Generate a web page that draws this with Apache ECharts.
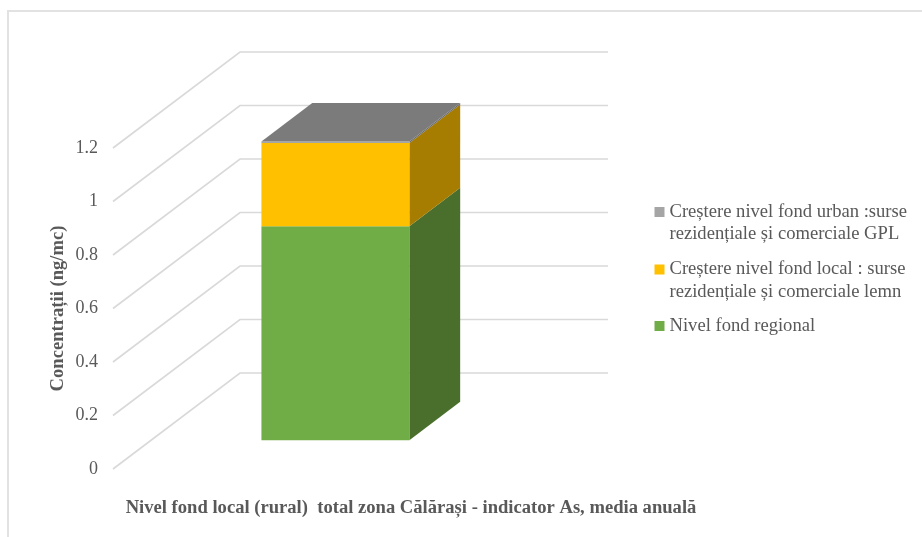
<!DOCTYPE html>
<html>
<head>
<meta charset="utf-8">
<style>html,body{margin:0;padding:0;background:#fff}#c{width:922px;height:537px}</style>
<script src="https://cdn.jsdelivr.net/npm/echarts@6/dist/echarts.min.js"></script>
</head>
<body>
<div id="c"></div>
<script>
const categories = ['Nivel fond local (rural)  total zona Călărași - indicator As, media anuală'];
const yTicks = [0, 0.2, 0.4, 0.6, 0.8, 1, 1.2];
const regional = [0.80];
const local = [0.311];
const urban = [0.006];
const nameRegional = 'Nivel fond regional';
const nameLocal = 'Creștere nivel fond local : surse\nrezidențiale și comerciale lemn';
const nameUrban = 'Creștere nivel fond urban :surse\nrezidențiale și comerciale GPL';

const FONT = '"Liberation Serif","Times New Roman",serif';
const TEXT = '#595959';
const DX = 127, DY = -96;          // full depth of the fake 3D floor
const T0 = 0.3, T1 = 0.7;          // bar placed between these depth fractions
const BAR_SHIFT = 0.3;
const TOPICON = 'path://M0,0H10V10H0Z M0,32H0';

function gridItem(params, api) {
  const p = api.coord([0, api.value(1)]);
  const band = api.size([1, 0])[0];
  const x0 = p[0] - band / 2;
  return {
    type: 'polyline',
    shape: { points: [[x0, p[1]], [x0 + DX, p[1] + DY], [x0 + DX + band, p[1] + DY]] },
    style: { stroke: '#d9d9d9', lineWidth: 1.6, fill: null },
    silent: true
  };
}

function barRender(front, side, top) {
  return function (params, api) {
    const cat = api.value(0);
    const a = api.coord([cat, api.value(1)]);
    const b = api.coord([cat, api.value(2)]);
    const w = api.size([1, 0])[0] * 0.402;
    const xl = a[0] - w / 2 + DX * T0 + BAR_SHIFT;
    const xr = xl + w;
    const yb = a[1] + DY * T0;
    const yt = b[1] + DY * T0;
    const ox = DX * (T1 - T0), oy = DY * (T1 - T0);
    const children = [
      { type: 'polygon', shape: { points: [[xr, yb], [xr + ox, yb + oy], [xr + ox, yt + oy], [xr, yt]] }, style: { fill: side } },
      { type: 'rect', shape: { x: xl, y: yt, width: w, height: yb - yt }, style: { fill: front } }
    ];
    if (top) {
      children.push({ type: 'polygon', shape: { points: [[xl, yt], [xr, yt], [xr + ox, yt + oy], [xl + ox, yt + oy]] }, style: { fill: top } });
    }
    return { type: 'group', children };
  };
}

const stackRows = categories.map((_, i) => {
  const s1 = regional[i], s2 = s1 + local[i], s3 = s2 + urban[i];
  return { a: [i, 0, s1], b: [i, s1, s2], c: [i, s2, s3] };
});

const chart = echarts.init(document.getElementById('c'), null, { renderer: 'canvas' });
chart.setOption({
  animation: false,
  backgroundColor: '#fff',
  graphic: [{
    type: 'rect', z: -10, silent: true,
    shape: { x: 8, y: 11, width: 930, height: 540 },
    style: { fill: null, stroke: '#e2e2e2', lineWidth: 2 }
  }],
  grid: { left: 113, top: 148, width: 368, height: 321 },
  xAxis: {
    type: 'category', data: categories,
    axisLine: { show: false }, axisTick: { show: false }, splitLine: { show: false },
    axisLabel: {
      interval: 0, margin: 30, color: TEXT, fontFamily: FONT, fontSize: 18.6, fontWeight: 'bold',
      align: 'center', padding: [0, 0, 0, 228], overflow: 'none'
    }
  },
  yAxis: {
    type: 'value', min: 0, max: 1.2, interval: 0.2,
    axisLine: { show: false }, axisTick: { show: false }, splitLine: { show: false },
    axisLabel: { margin: 15, color: TEXT, fontFamily: FONT, fontSize: 18, padding: [5, 0, 0, 0] },
    name: 'Concentrații (ng/mc)', nameLocation: 'middle', nameGap: 45,
    nameTextStyle: { color: TEXT, fontFamily: FONT, fontSize: 18.6, fontWeight: 'bold' }
  },
  legend: [{
    orient: 'vertical', left: 654.5, top: 200.5, padding: 0, itemWidth: 10, itemHeight: 32, itemGap: 12.5,
    selectedMode: false,
    data: [{ name: nameUrban, icon: TOPICON }, { name: nameLocal, icon: TOPICON }],
    textStyle: { color: TEXT, fontFamily: FONT, fontSize: 18.6, lineHeight: 22.5 }
  }, {
    orient: 'vertical', left: 654.5, top: 314.75, padding: 0, itemWidth: 10, itemHeight: 10,
    selectedMode: false,
    data: [{ name: nameRegional, icon: 'rect' }],
    textStyle: { color: TEXT, fontFamily: FONT, fontSize: 18.6, lineHeight: 22.5 }
  }],
  series: [
    { type: 'custom', name: 'grid', silent: true, clip: false, z: 1,
      data: yTicks.map(v => [0, v]), encode: { x: 0, y: 1 }, renderItem: gridItem },
    { type: 'custom', name: nameRegional, clip: false, z: 2, itemStyle: { color: '#70AD47' },
      data: stackRows.map(r => r.a), encode: { x: 0, y: [1, 2] },
      renderItem: barRender('#70AD47', '#4A6F2C') },
    { type: 'custom', name: nameLocal, clip: false, z: 3, itemStyle: { color: '#FFC000' },
      data: stackRows.map(r => r.b), encode: { x: 0, y: [1, 2] },
      renderItem: barRender('#FFC000', '#A67D00') },
    { type: 'custom', name: nameUrban, clip: false, z: 4, itemStyle: { color: '#A5A5A5' },
      data: stackRows.map(r => r.c), encode: { x: 0, y: [1, 2] },
      renderItem: barRender('#A5A5A5', '#6B6B6B', '#7B7B7B') }
  ]
});
</script>
</body>
</html>
